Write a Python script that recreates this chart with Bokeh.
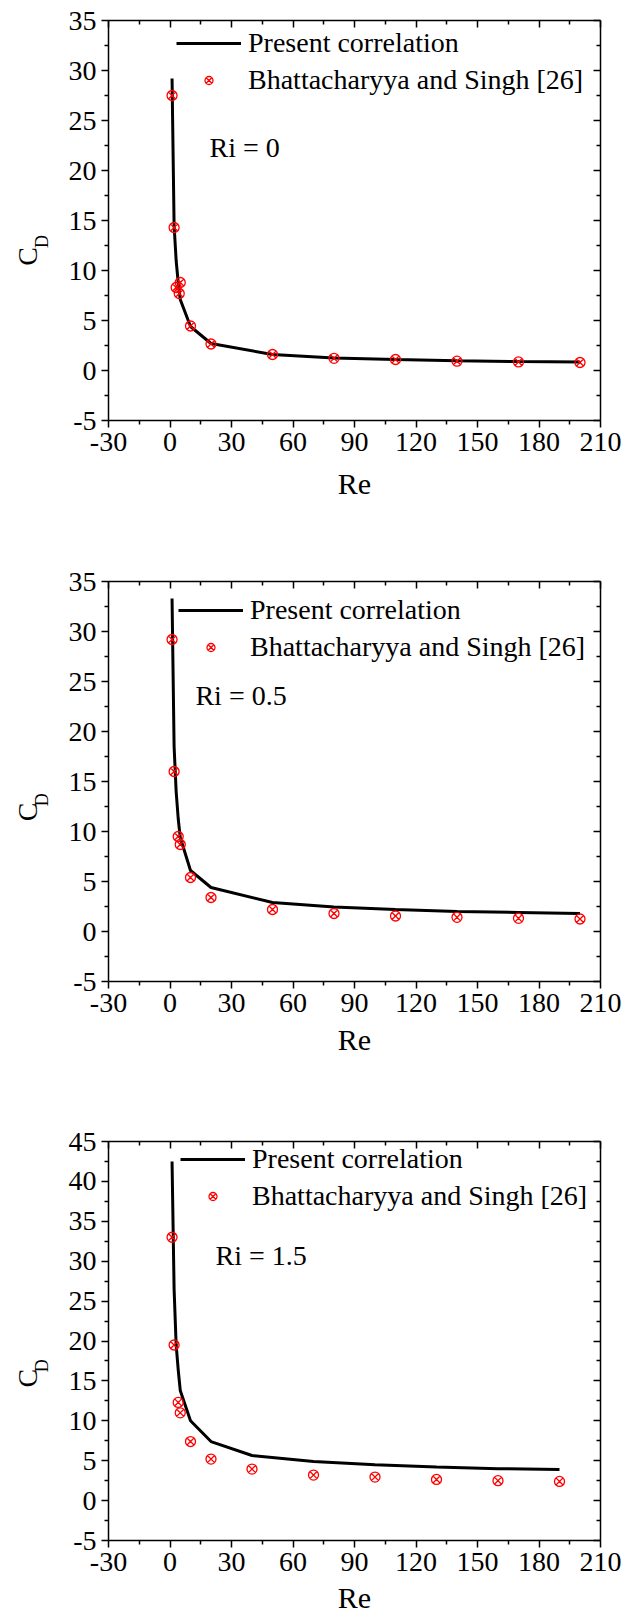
import math
from bokeh.plotting import figure
from bokeh.models import (Range1d, FixedTicker, LinearAxis, Label, Legend,
                          LegendItem, CustomLabelingPolicy)
from bokeh.layouts import column, row
from bokeh.embed import file_html
from bokeh.resources import INLINE

FONT = "Liberation Serif"

# ---------------- data ----------------
ri_labels = ["Ri = 0", "Ri = 0.5", "Ri = 1.5"]
legend_labels = ["Present correlation", "Bhattacharyya and Singh [26]"]

# Ri = 0
re_curve_0 = [1, 2, 3, 4, 5, 10, 20, 50, 80, 110, 140, 170, 200]
cd_curve_0 = [29.2, 14.5, 11.0, 8.8, 7.1, 4.4, 2.7, 1.6, 1.25, 1.1, 0.97, 0.9, 0.85]
re_data_0 = [1, 2, 3, 5, 4.5, 10, 20, 50, 80, 110, 140, 170, 200]
cd_data_0 = [27.5, 14.3, 8.3, 8.8, 7.7, 4.45, 2.65, 1.6, 1.22, 1.1, 0.93, 0.86, 0.8]

# Ri = 0.5
re_curve_05 = [1, 2, 3, 4, 5, 10, 20, 50, 80, 110, 140, 170, 200]
cd_curve_05 = [33.3, 18.5, 14.0, 11.3, 9.4, 6.1, 4.4, 2.9, 2.45, 2.2, 2.0, 1.9, 1.8]
re_data_05 = [1, 2, 4, 5, 10, 20, 50, 80, 110, 140, 170, 200]
cd_data_05 = [29.2, 16.0, 9.5, 8.7, 5.4, 3.4, 2.2, 1.8, 1.55, 1.42, 1.32, 1.25]

# Ri = 1.5
re_curve_15 = [1, 2, 3, 4, 5, 10, 20, 40, 70, 100, 130, 160, 190]
cd_curve_15 = [42.5, 26.5, 19.5, 16.4, 13.8, 10.0, 7.4, 5.65, 4.9, 4.5, 4.2, 4.0, 3.9]
re_data_15 = [1, 2, 4, 5, 10, 20, 40, 70, 100, 130, 160, 190]
cd_data_15 = [33.0, 19.5, 12.3, 11.0, 7.4, 5.2, 3.95, 3.2, 2.95, 2.65, 2.5, 2.4]

x_ticks = list(range(-30, 211, 30))
x_minor = [t + 15 for t in x_ticks[:-1]]


def y_ticks_for(ymax):
    major = list(range(-5, ymax + 1, 5))
    minor = [t + 2.5 for t in major[:-1]]
    return major, minor


HIDE = "for (const i of indices) { indices.unset(i) }\nreturn indices"
LW = 60          # width of the strip that carries the y-axis title
TOTAL_W = 628


def style_axis(ax, labels=True, inward=False):
    ax.axis_line_width = 1.5
    ax.axis_line_color = "black"
    ax.major_tick_line_width = 1.5
    ax.minor_tick_line_width = 1.5
    ax.major_tick_line_color = "black"
    ax.minor_tick_line_color = "black"
    if inward:
        ax.major_tick_in = 7
        ax.major_tick_out = 0
        ax.minor_tick_in = 4
        ax.minor_tick_out = 0
    else:
        ax.major_tick_in = 0
        ax.major_tick_out = 7
        ax.minor_tick_in = 0
        ax.minor_tick_out = 4
    if labels:
        ax.major_label_text_font = FONT
        ax.major_label_text_font_size = "28px"
        ax.major_label_text_color = "black"
    else:
        ax.major_label_policy = CustomLabelingPolicy(code=HIDE)
        ax.major_label_standoff = 0


def title_strip(height, c_y, d_y):
    """Narrow canvas holding the rotated y-axis title C_D."""
    s = figure(width=LW, height=height, x_range=Range1d(0, LW),
               y_range=Range1d(0, height), output_backend="svg",
               toolbar_location=None, x_axis_type=None, y_axis_type=None,
               min_border=0)
    s.outline_line_color = None
    s.background_fill_color = "white"
    s.border_fill_color = "white"
    s.grid.visible = False
    s.add_layout(Label(x=27, y=height - c_y, text="C", angle=math.pi / 2,
                       text_font=FONT, text_font_size="28px",
                       text_color="black", text_align="center",
                       text_baseline="alphabetic"))
    s.add_layout(Label(x=41, y=height - d_y, text="D", angle=math.pi / 2,
                       text_font=FONT, text_font_size="18px",
                       text_color="black", text_align="center",
                       text_baseline="alphabetic"))
    return s


def make_panel(re_c, cd_c, re_d, cd_d, ymax, ri_text, ri_xy,
               legend_loc, height, top, bottom, re_standoff):
    p = figure(width=TOTAL_W - LW, height=height,
               x_range=Range1d(-30, 210), y_range=Range1d(-5, ymax),
               output_backend="svg", toolbar_location=None,
               x_axis_type=None, y_axis_type=None,
               min_border_left=108 - LW, min_border_right=28,
               min_border_top=top, min_border_bottom=bottom)
    p.outline_line_color = None
    p.background_fill_color = "white"
    p.border_fill_color = "white"

    ymaj, ymin = y_ticks_for(ymax)
    xover = {t: str(t) for t in x_ticks}
    yover = {t: str(t) for t in ymaj}

    bx = LinearAxis(ticker=FixedTicker(ticks=x_ticks, minor_ticks=x_minor),
                    major_label_overrides=xover)
    style_axis(bx)
    bx.major_label_standoff = 5
    bx.axis_label = "Re"
    bx.axis_label_text_font = FONT
    bx.axis_label_text_font_size = "30px"
    bx.axis_label_text_font_style = "normal"
    bx.axis_label_text_color = "black"
    bx.axis_label_standoff = re_standoff

    ly = LinearAxis(ticker=FixedTicker(ticks=ymaj, minor_ticks=ymin),
                    major_label_overrides=yover)
    style_axis(ly)
    ly.major_label_standoff = 5

    tx = LinearAxis(ticker=FixedTicker(ticks=x_ticks, minor_ticks=x_minor))
    style_axis(tx, labels=False, inward=True)
    ry = LinearAxis(ticker=FixedTicker(ticks=ymaj, minor_ticks=ymin))
    style_axis(ry, labels=False, inward=True)
    p.add_layout(bx, "below")
    p.add_layout(ly, "left")
    p.add_layout(tx, "above")
    p.add_layout(ry, "right")

    r_line = p.line(re_c, cd_c, line_color="black", line_width=3)
    r_pts = p.scatter(re_d, cd_d, marker="circle_x", size=10,
                      line_color="red", fill_color=None, line_width=1.3)

    leg = Legend(items=[LegendItem(label=legend_labels[0], renderers=[r_line]),
                        LegendItem(label=legend_labels[1], renderers=[r_pts])],
                 location=legend_loc, orientation="vertical",
                 glyph_width=65, glyph_height=20, label_height=31,
                 label_standoff=7, spacing=5, padding=0, margin=0,
                 border_line_color=None, background_fill_alpha=0,
                 label_text_font=FONT, label_text_font_size="28px",
                 label_text_color="black")
    p.add_layout(leg, "center")

    p.add_layout(Label(x=ri_xy[0], y=ri_xy[1], text=ri_text,
                       text_font=FONT, text_font_size="28px",
                       text_color="black", text_baseline="alphabetic",
                       text_align="left"))
    return p


H1, H2, H3 = 541, 561, 514

p1 = make_panel(re_curve_0, cd_curve_0, re_data_0, cd_data_0, 35,
                ri_labels[0], (19.3, 22.3), (68, 324.5), H1, 20, 121, 13)
p2 = make_panel(re_curve_05, cd_curve_05, re_data_05, cd_data_05, 35,
                ri_labels[1], (12.4, 23.6), (70, 318.5), H2, 40, 121, 8)
p3 = make_panel(re_curve_15, cd_curve_15, re_data_15, cd_data_15, 45,
                ri_labels[2], (22.2, 30.7), (72, 327.8), H3, 39, 75, 7)

s1 = title_strip(H1, 319, 299)
s2 = title_strip(H2, 323, 306)
s3 = title_strip(H3, 305, 289)

layout = column(row(s1, p1, spacing=0), row(s2, p2, spacing=0),
                row(s3, p3, spacing=0), spacing=0)
open("out.html", "w").write(file_html(layout, INLINE))
